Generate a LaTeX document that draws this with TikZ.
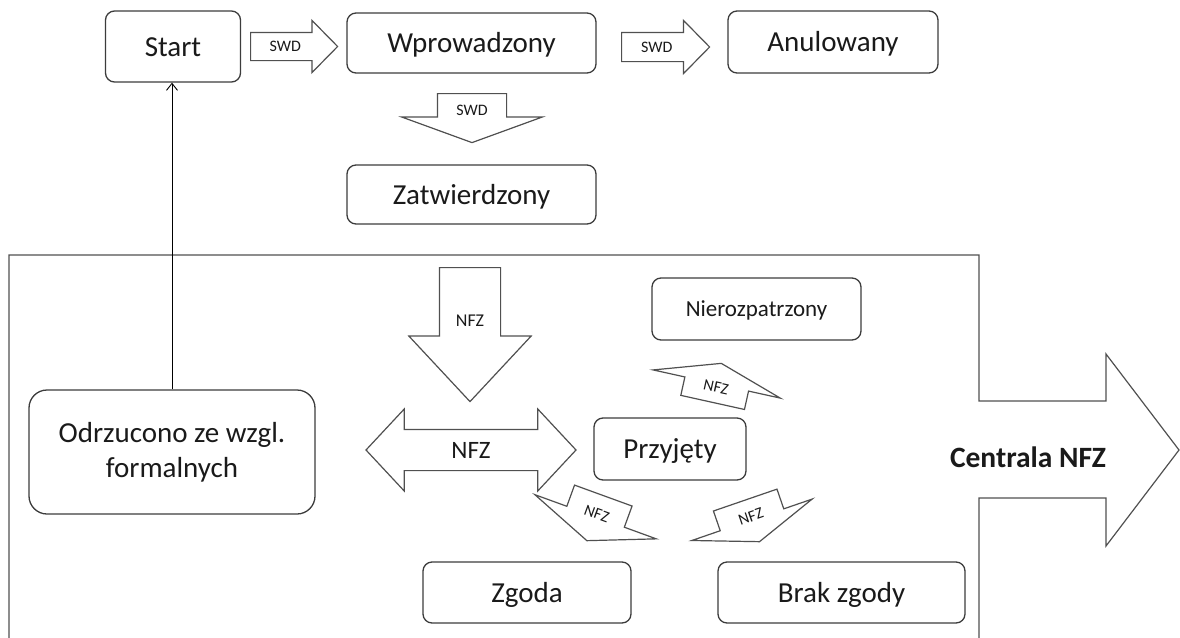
\documentclass[tikz,border=0pt]{standalone}
\usepackage{fontspec}
\setmainfont{Carlito}
\usetikzlibrary{arrows.meta,calc,shapes.arrows}
\definecolor{Ink}{HTML}{3C3C3C}
\definecolor{Edge}{HTML}{505050}
\definecolor{Txt}{HTML}{1A1A1A}

\begin{document}
\begin{tikzpicture}[x=1pt,y=-1pt,every node/.style={text=Txt},
  status/.style={draw=Ink,line width=1.3pt,rounded corners=9pt,fill=white,inner sep=0pt,
    font=\fontsize{29}{35}\selectfont,text height=19pt,text depth=0pt},
  blk/.style={draw=Edge,line width=1.2pt,fill=white,inner sep=0pt,minimum width=1pt},
  harr/.style={blk,single arrow,inner xsep=0pt},
  varr/.style={blk,single arrow,inner ysep=0pt},
  tag/.style={font=\fontsize{16}{18}\selectfont,inner sep=0pt}]
  \useasboundingbox (0,0) rectangle (1180,637);

  % ramka z duza strzalka
  \draw[Edge,line width=1.2pt,line join=miter] (9,640) -- (9,255) -- (979,255) -- (979,401) -- (1106,401)
    -- (1106,354) -- (1179,450) -- (1106,546) -- (1106,498) -- (979,498) -- (979,640);
  \node[font=\bfseries\fontsize{29.5}{35}\selectfont] (centrala) at (1028,457) {Centrala NFZ};

  % statusy SWD
  \node[status,minimum width=135pt,minimum height=71pt] (start) at (173,46.5) {Start};
  \node[status,minimum width=249pt,minimum height=60pt] (wpr) at (471.5,43) {Wprowadzony};
  \node[status,minimum width=210pt,minimum height=62pt] (anul) at (833,42) {Anulowany};
  \node[status,minimum width=249pt,minimum height=59pt] (zatw) at (471.5,194.5) {Zatwierdzony};

  \node[harr,inner ysep=13.5pt,minimum height=87pt,single arrow head extend=12pt,
    single arrow tip angle=91,anchor=tail] (swd1) at (250,46.5) {};
  \node[tag] at ($(swd1.tail)!.4!(swd1.tip)$) {SWD};
  \node[harr,inner ysep=14pt,minimum height=88pt,single arrow head extend=12pt,
    single arrow tip angle=91,anchor=tail] (swd2) at (621,47) {};
  \node[tag] at ($(swd2.tail)!.4!(swd2.tip)$) {SWD};
  \node[varr,shape border rotate=270,inner xsep=34pt,minimum height=49pt,
    single arrow head extend=36pt,single arrow tip angle=140,anchor=tail] (swd3) at (472,93) {};
  \node[tag] at ($(swd3.tail)!.35!(swd3.tip)$) {SWD};

  % statusy NFZ
  \node[status,minimum width=209pt,minimum height=62pt,font=\fontsize{23}{28}\selectfont,
    text height=15pt] (nier) at (756.5,309) {Nierozpatrzony};
  \node[status,minimum width=152pt,minimum height=62pt] (przy) at (670,449) {Przyjęty};
  \node[status,minimum width=286pt,minimum height=124pt,rounded corners=18pt,align=center,
    text height={},text depth={}] (odrz) at (172,452) {Odrzucono ze wzgl.\\formalnych};
  \node[status,minimum width=208pt,minimum height=61pt] (zgoda) at (527,592.5) {Zgoda};
  \node[status,minimum width=247pt,minimum height=61pt] (brak) at (841.5,592.5) {Brak zgody};

  \node[varr,shape border rotate=270,inner xsep=30pt,minimum height=134pt,
    single arrow head extend=30.5pt,single arrow tip angle=86,anchor=tail] (nfz1) at (470,267) {};
  \node[tag,font=\fontsize{18}{20}\selectfont] at ($(nfz1.tail)!.4!(nfz1.tip)$) {NFZ};
  \node[blk,double arrow,inner xsep=0pt,inner ysep=20pt,minimum height=210pt,
    double arrow head extend=20.5pt,double arrow tip angle=94] (nfz2) at (471,450) {};
  \node[tag,font=\fontsize{25}{30}\selectfont] at (nfz2.center) {NFZ};
  \node[varr,shape border rotate=90,rotate=-12.5,inner xsep=32pt,minimum height=40pt,
    single arrow head extend=32.5pt,single arrow tip angle=144,anchor=tail] (nfz3) at (712.5,403) {};
  \node[tag,rotate=-12.5] at ($(nfz3.tail)!.4!(nfz3.tip)$) {NFZ};
  \node[varr,shape border rotate=270,rotate=-20,inner xsep=30pt,minimum height=48pt,
    single arrow head extend=34pt,single arrow tip angle=137,anchor=tail] (nfz4) at (603.5,495) {};
  \node[tag,rotate=-20] at ($(nfz4.tail)!.4!(nfz4.tip)$) {NFZ};
  \node[varr,shape border rotate=270,rotate=19,inner xsep=33pt,minimum height=44pt,
    single arrow head extend=30pt,single arrow tip angle=140,anchor=tail] (nfz5) at (745,499.5) {};
  \node[tag,rotate=19] at ($(nfz5.tail)!.4!(nfz5.tip)$) {NFZ};

  % powrot do startu
  \draw[line width=0.9pt,-{Straight Barb[length=7pt,width=11pt]}] (odrz.north) -- (odrz.north |- start.south);
\end{tikzpicture}
\end{document}
